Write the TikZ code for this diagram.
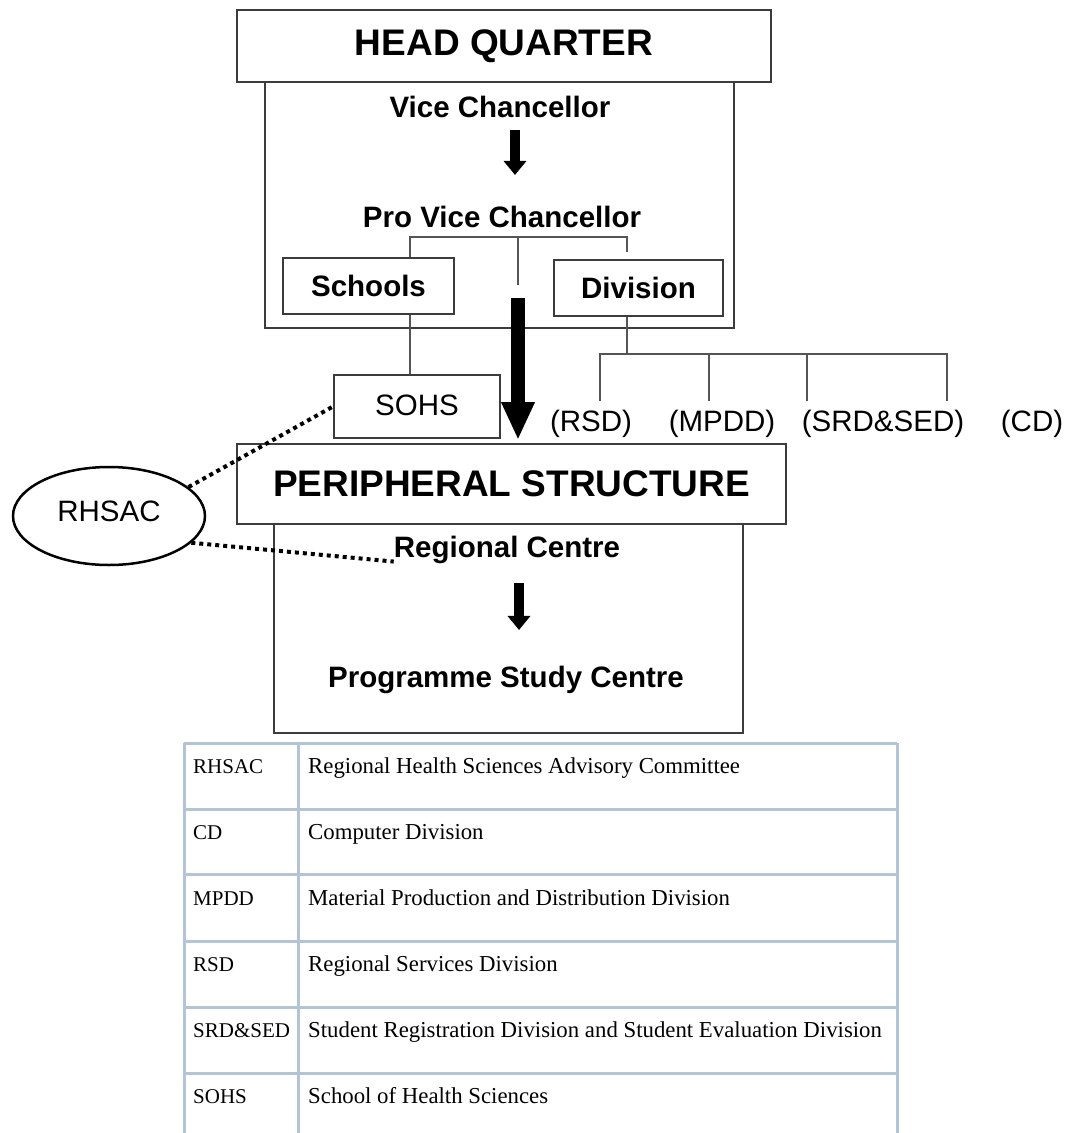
\documentclass[tikz,border=0pt]{standalone}
\usepackage{fontspec}
\setmainfont{Liberation Serif}
\setsansfont{Liberation Sans}
\usepackage{xcolor}
\definecolor{orgline}{HTML}{3C3C3C}
\definecolor{orgtree}{HTML}{555555}
\definecolor{orggrid}{HTML}{B3C5D4}
\usepackage{tikz}
\usetikzlibrary{arrows.meta,positioning,shapes.geometric,calc}
\tikzset{
  orgbox/.style={draw=orgline,line width=2pt,fill=white,inner sep=0pt},
  orgframe/.style={draw=orgline,line width=2pt,inner sep=0pt},
  orgtitle/.style={font=\sffamily\bfseries\fontsize{37}{40}\selectfont},
  orgtext/.style={font=\sffamily\bfseries\fontsize{29.5}{32}\selectfont,inner sep=0pt},
  orgplain/.style={font=\sffamily\fontsize{29.5}{32}\selectfont,inner sep=0pt},
  orgtree/.style={draw=orgtree,line width=1.5pt},
  orgflow/.style={-{Triangle[length=14pt,width=22pt]},line width=10pt},
  orgbig/.style={-{Triangle[length=38pt,width=31pt]},line width=14pt},
  orgdots/.style={draw=black,line width=4pt,dash pattern=on 4pt off 4pt},
  orgcell/.style={font=\fontsize{21}{24}\selectfont,anchor=base west,inner sep=0pt},
  orgdesc/.style={orgcell,font=\fontsize{22.8}{26}\selectfont},
  orggridline/.style={draw=orggrid,line width=3pt},
}

\begin{document}
\begin{tikzpicture}[x=1pt,y=-1pt]
\useasboundingbox (0,0) rectangle (1068,1133);
% head quarter
\node[orgframe,minimum width=469pt,minimum height=246pt] (hqbody) at (499.5,205) {};
\node[orgbox,orgtitle,minimum width=534pt,minimum height=72pt] (hq) at (504,46) {\raisebox{-3pt}{HEAD QUARTER}};
\node[orgtext] (vc) at (500,107) {Vice Chancellor};
\node[orgtext] (pvc) at (502,217) {Pro Vice Chancellor};
\draw[orgflow] ([xshift=15pt,yshift=-12pt]vc.south) -- ([xshift=13pt,yshift=31pt]pvc.north);
\node[orgbox,orgtext,minimum width=171pt,minimum height=56pt] (schools) at (368.5,286) {Schools};
\node[orgbox,orgtext,minimum width=169pt,minimum height=56pt] (division) at (638.5,288) {Division};
\coordinate (brl) at (410,237);
\coordinate (brr) at (627,237);
\coordinate (stub) at (518,285);
\draw[orgtree] (schools.north -| brl) -- (brl) -- (brr) -- ([yshift=7pt]division.north -| brr);
\draw[orgtree] (stub |- brl) -- (stub);
% peripheral structure
\node[orgframe,minimum width=469pt,minimum height=209pt] (rcbody) at (508.5,628.5) {};
\node[orgbox,orgtitle,minimum width=549pt,minimum height=80pt] (peri) at (511.5,484) {PERIPHERAL STRUCTURE};
\draw[orgbig] ($(stub)+(0,13)$) -- ($(peri.north -| stub)+(0,-3)$);
\node[orgbox,orgplain,minimum width=166pt,minimum height=63pt] (sohs) at (417,406.5) {\raisebox{3pt}{SOHS}};
\draw[orgtree] (schools.south -| brl) -- (sohs.north -| brl);
\node[orgtext] (rc) at (507,550) {Regional Centre};
\node[orgtext] (psc) at (506,680) {Programme Study Centre};
\draw[orgflow] ([xshift=12pt,yshift=-19pt]rc.south) -- ([xshift=13pt,yshift=36pt]psc.north);
% divisions
\coordinate (divbar) at (627,354);
\coordinate (drop1) at (600,401);
\coordinate (drop2) at (709,401);
\coordinate (drop3) at (807,401);
\coordinate (drop4) at (947,401);
\draw[orgtree] (division.south -| divbar) -- (divbar);
\draw[orgtree] (drop1) |- (divbar -| drop4) -- (drop4);
\foreach \d in {drop2,drop3}
  \draw[orgtree] (\d) -- (\d |- divbar);
\node[orgplain] (rsd) at (591,424) {(RSD)};
\node[orgplain] (mpdd) at (722,424) {(MPDD)};
\node[orgplain] (srdsed) at (883,424) {(SRD\&SED)};
\node[orgplain] (cd) at (1032,424) {(CD)};
% advisory committee
\node[draw=black,line width=2.5pt,ellipse,orgplain,minimum width=192pt,minimum height=98pt] (rhsac) at (109,516) {\raisebox{9pt}{RHSAC}};
\draw[orgdots] (rhsac.20) -- (sohs.west);
\draw[orgdots] (rhsac.-18) -- ([yshift=-4pt]rc.base west);
% key table
\foreach \y in {743,809,874,941,1007,1073}
  \draw[orggridline] (184,\y) -- (897,\y);
\foreach \x in {184,298,897}
  \draw[orggridline] (\x,743) -- (\x,1133);
\foreach \ab/\de [count=\r from 0] in {RHSAC/Regional Health Sciences Advisory Committee,
    CD/Computer Division,
    MPDD/Material Production and Distribution Division,
    RSD/Regional Services Division,
    SRD\&SED/Student Registration Division and Student Evaluation Division,
    SOHS/School of Health Sciences}
{
  \node[orgcell] (ab\r) at (193,{773+66*\r}) {\ab};
  \node[orgdesc] (de\r) at (308,{773+66*\r}) {\de};
}
\end{tikzpicture}
\end{document}
